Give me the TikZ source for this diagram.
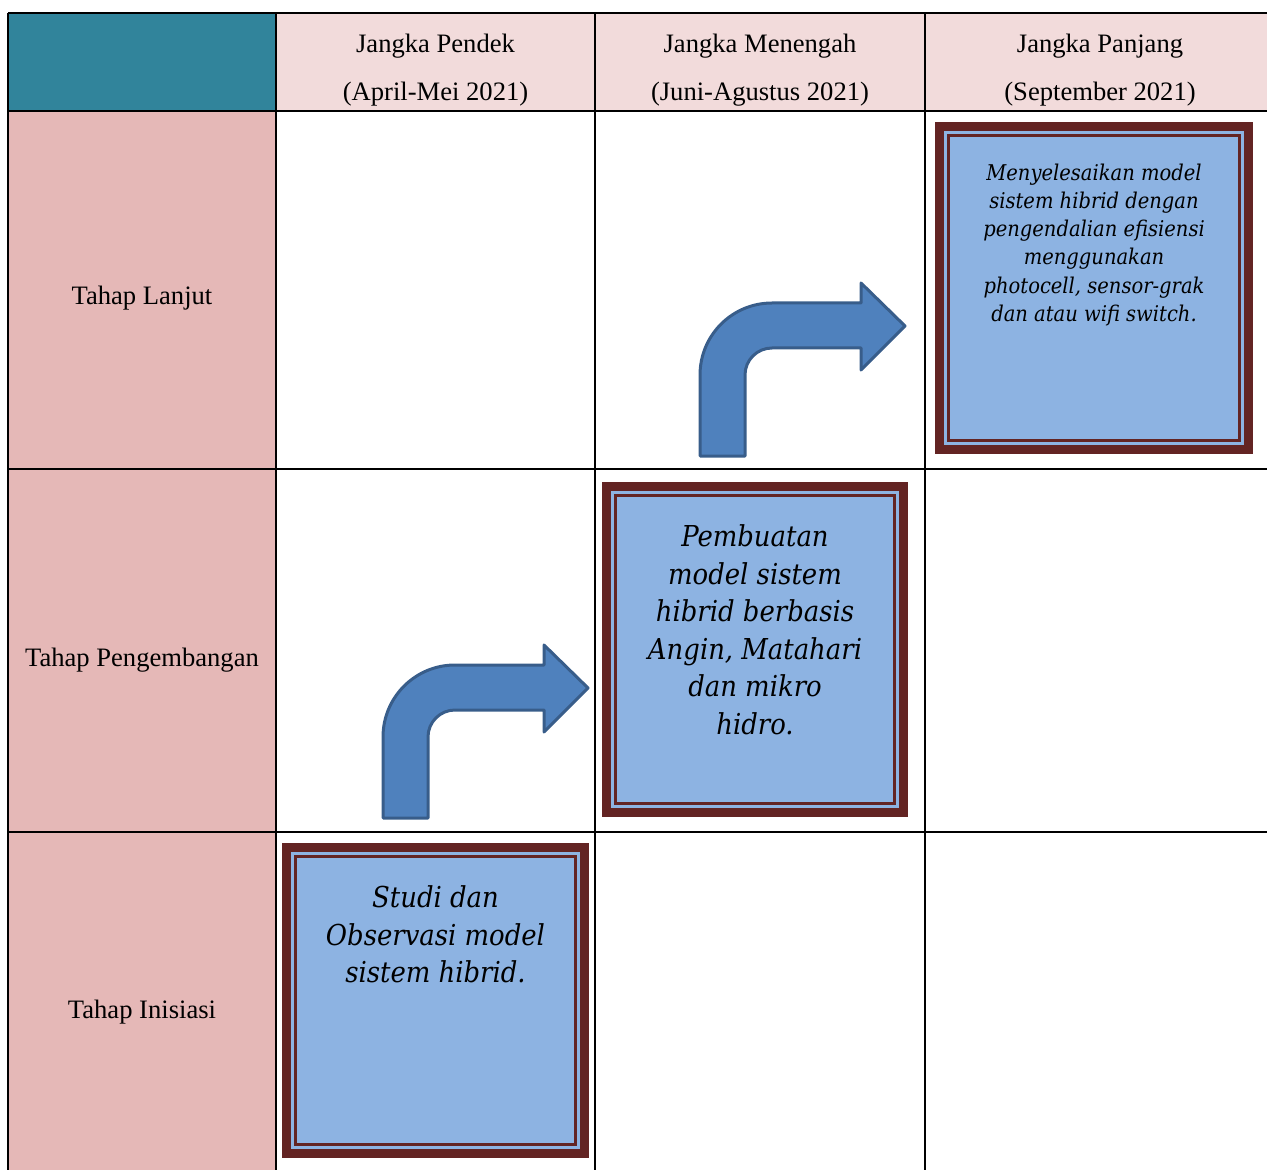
\documentclass[tikz,border=0pt]{standalone}
\usepackage{fontspec}
\setmainfont{Liberation Serif}
\newfontfamily\boxfont{DejaVu Serif Condensed}
\usetikzlibrary{positioning}

\definecolor{headteal}{HTML}{31849B}
\definecolor{headpink}{HTML}{F2DBDB}
\definecolor{rowpink}{HTML}{E5B8B7}
\definecolor{boxblue}{HTML}{8DB3E2}
\definecolor{framered}{HTML}{632423}
\definecolor{arrowblue}{HTML}{4F81BD}
\definecolor{arrowline}{HTML}{385D8A}

% bent-up arrow, origin = top-left corner of the bend
\newcommand{\bentarrow}[1]{%
  \begin{scope}[shift={#1}]
    \draw[arrowline, fill=arrowblue, line width=1.5pt, line join=round]
      (0,153) -- (0,72) .. controls (0,32.2) and (32.2,0) .. (72,0) -- (161,0)
      -- (161,-20) -- (205,23) -- (161,67) -- (161,45) -- (72,45)
      .. controls (57.1,45) and (45,57.1) .. (45,72) -- (45,153) -- cycle;
  \end{scope}}

\begin{document}
\begin{tikzpicture}[x=0.5pt, y=-0.5pt,
    headlabel/.style={align=center, font=\fontsize{13.3}{24}\selectfont},
    rowlabel/.style={font=\fontsize{13.3}{16}\selectfont},
    taskbox/.style={draw=framered, line width=4.5pt, fill=boxblue, inner sep=0pt, outer sep=0pt},
    bigtext/.style={anchor=north, align=center, inner sep=0pt, font=\boxfont\itshape\fontsize{14.4}{18.75}\selectfont},
    smalltext/.style={anchor=north, align=center, inner sep=0pt, font=\boxfont\itshape\fontsize{10.85}{14.1}\selectfont}]
    \useasboundingbox (0,0) rectangle (1267,1170);

    % Cell fills
    \fill[headteal] (8,13) rectangle (276,111);
    \fill[headpink] (276,13) rectangle (1290,111);
    \fill[rowpink] (8,111) rectangle (276,1190);

    % Grid lines
    \foreach \y in {13,111,469,832}
        \draw[line width=1pt] (8,\y) -- (1290,\y);
    \foreach \x in {8,276,595,925}
        \draw[line width=1pt] (\x,13) -- (\x,1190);

    % Column headers
    \node[headlabel] (colshort) at (435.5,70.5) {Jangka Pendek\\(April-Mei 2021)};
    \node[headlabel] (colmid) at (760,70.5) {Jangka Menengah\\(Juni-Agustus 2021)};
    \node[headlabel] (collong) at (1100,70.5) {Jangka Panjang\\(September 2021)};

    % Row labels
    \node[rowlabel] (rowadv) at (142,298) {Tahap Lanjut};
    \node[rowlabel] (rowdev) at (142,660) {Tahap Pengembangan};
    \node[rowlabel] (rowinit) at (142,1012) {Tahap Inisiasi};

    % Task boxes
    \node[taskbox, minimum width=149pt, minimum height=153pt] (initbox) at (435.5,1000.5) {};
    \node[taskbox, minimum width=148.5pt, minimum height=163pt] (devbox) at (755,649.5) {};
    \node[taskbox, minimum width=154.5pt, minimum height=161.5pt] (advbox) at (1094,288) {};
    \foreach \b in {initbox,devbox,advbox}
        \draw[framered, line width=1.5pt] ([xshift=4.5pt,yshift=-4.5pt]\b.north west)
            rectangle ([xshift=-4.5pt,yshift=4.5pt]\b.south east);

    \node[bigtext] (initext) at ([yshift=-19pt]initbox.north) {Studi dan\\Observasi model\\sistem hibrid.};
    \node[bigtext] (devtext) at ([yshift=-19pt]devbox.north) {Pembuatan\\model sistem\\hibrid berbasis\\Angin, Matahari\\dan mikro\\hidro.};
    \node[smalltext] (advtext) at ([yshift=-18.5pt]advbox.north) {Menyelesaikan model\\sistem hibrid dengan\\pengendalian efisiensi\\menggunakan\\photocell, sensor-grak\\dan atau wifi switch.};

    % Arrows
    \bentarrow{(383,665)}
    \bentarrow{(700,303)}
\end{tikzpicture}
\end{document}
